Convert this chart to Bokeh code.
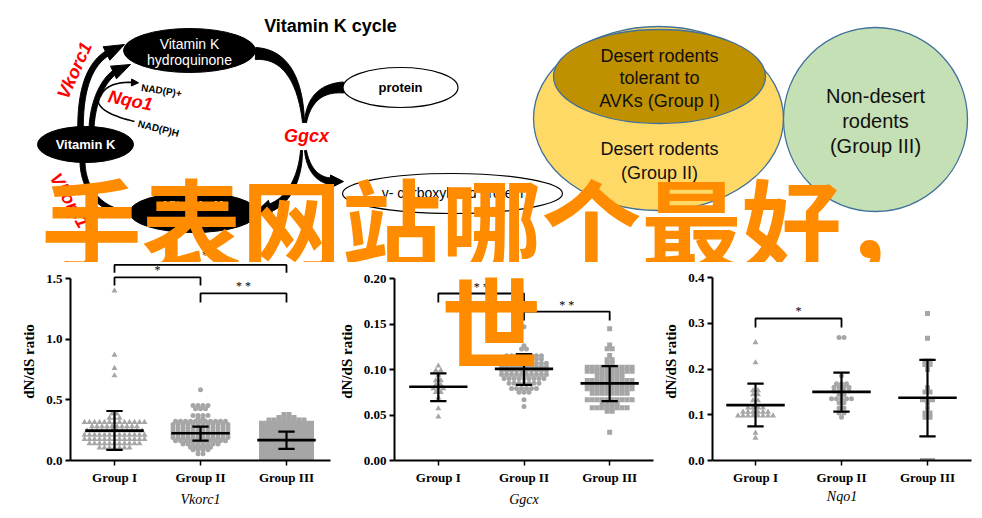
import numpy as np
from bokeh.plotting import figure
from bokeh.models import Range1d, FixedTicker, PrintfTickFormatter
from bokeh.layouts import column, row
from bokeh.embed import file_html
from bokeh.resources import INLINE
from bokeh.core.properties import value

# ---------------- chart data ----------------
group_labels = ["Group I", "Group II", "Group III"]
gene_titles = ["Vkorc1", "Ggcx", "Nqo1"]
y_title = "dN/dS ratio"
overlay_line1 = "手表网站哪个最好，"
overlay_line2 = "世"

# dot rows: value of the row and number of dots in that row
vk_g1_vals = [1.40, 0.87, 0.76, 0.70, 0.385, 0.35, 0.315, 0.28, 0.245, 0.21, 0.175, 0.14, 0.105]
vk_g1_cnt = [1, 1, 1, 1, 2, 3, 13, 10, 12, 13, 13, 11, 7]
vk_g2_vals = [0.583, 0.453, 0.426, 0.371, 0.349, 0.324, 0.297, 0.27, 0.243, 0.216, 0.189, 0.162, 0.135, 0.11, 0.088, 0.055]
vk_g2_cnt = [1, 4, 3, 4, 2, 11, 12, 12, 12, 12, 12, 11, 8, 5, 4, 2]
vk_g3_vals = [0.379, 0.355, 0.333, 0.307, 0.28, 0.253, 0.226, 0.199, 0.172, 0.145, 0.118, 0.091, 0.064, 0.037, 0.012]
vk_g3_cnt = [2, 4, 8, 11, 11, 11, 11, 11, 11, 11, 11, 11, 11, 11, 11]
vk_mean = [0.246, 0.225, 0.168]
vk_lo = [0.088, 0.164, 0.096]
vk_hi = [0.408, 0.279, 0.238]

gg_g1_vals = [0.104, 0.099, 0.094, 0.088, 0.083, 0.079, 0.075, 0.069, 0.057, 0.048]
gg_g1_cnt = [1, 2, 1, 2, 2, 3, 2, 1, 1, 1]
gg_g2_vals = [0.147, 0.126, 0.1225, 0.115, 0.1115, 0.107, 0.103, 0.099, 0.0945, 0.090, 0.085, 0.079, 0.075, 0.0667, 0.0593]
gg_g2_cnt = [1, 1, 2, 8, 8, 10, 10, 10, 10, 9, 7, 6, 3, 1, 1]
gg_g3_vals = [0.1447, 0.127, 0.1227, 0.1154, 0.1106, 0.107, 0.1026, 0.0982, 0.0934, 0.0879, 0.0835, 0.0788, 0.074, 0.0667, 0.0623, 0.0579, 0.0542, 0.0311]
gg_g3_cnt = [1, 1, 2, 1, 2, 2, 10, 10, 6, 10, 10, 10, 8, 10, 4, 8, 2, 1]
gg_mean = [0.081, 0.1007, 0.0847]
gg_lo = [0.0653, 0.083, 0.0653]
gg_hi = [0.0957, 0.117, 0.1037]

nq_g1_vals = [0.258, 0.214, 0.153, 0.144, 0.131, 0.122, 0.115, 0.106, 0.098, 0.060, 0.049]
nq_g1_cnt = [1, 1, 2, 2, 2, 1, 4, 6, 8, 1, 1]
nq_g2_vals = [0.269, 0.185, 0.168, 0.160, 0.152, 0.144, 0.135, 0.126, 0.115, 0.104, 0.0945]
nq_g2_cnt = [2, 1, 3, 4, 4, 2, 5, 2, 2, 2, 1]
nq_g3_vals = [0.3215, 0.2674, 0.2176, 0.210, 0.199, 0.159, 0.150, 0.133, 0.126, 0.115, 0.104, 0.0945, 0.0]
nq_g3_cnt = [1, 1, 2, 2, 1, 1, 2, 3, 1, 1, 2, 2, 3]
nq_mean = [0.121, 0.150, 0.137]
nq_lo = [0.0747, 0.107, 0.0527]
nq_hi = [0.168, 0.192, 0.2198]

# significance brackets: (from group, to group, bar level, drop level, stars)
vk_brackets = [(1, 3, 1.612, 1.548, ""), (1, 2, 1.509, 1.443, "*"), (2, 3, 1.377, 1.303, "* *")]
vk_top_stars = "* *"
gg_brackets = [(1, 2, 0.1835, 0.1736, "* *"), (2, 3, 0.1637, 0.1538, "* *")]
nq_brackets = [(1, 2, 0.3104, 0.2907, "*")]

# ---------------- styling / page geometry ----------------
DOT = "#a6a6a6"
ORANGE = "#ff8c00"
SERIF = "Liberation Serif"
SANS = "Liberation Sans"
CJK = "Noto Sans CJK SC"
BIG = "75pt"         # = 100px
SPLIT = 262          # page y where the diagrams stop and the dot plots begin
AXIS0 = 460          # page y of the x axes
BOTTOM = 510


def swarm(vals, counts, center, px_y, px_x=86.0, dx=5.0, tol=2.5):
    v = np.sort(np.repeat(np.asarray(vals, float), counts))[::-1]
    xs, ys = [], []
    i = 0
    while i < len(v):
        j = i
        while j + 1 < len(v) and (v[i] - v[j + 1]) * px_y < tol:
            j += 1
        n = j - i + 1
        offs = (np.arange(n) - (n - 1) / 2.0) * dx / px_x
        xs.extend([float(a) for a in center + offs])
        ys.extend([float(a) for a in v[i:j + 1]])
        i = j + 1
    return xs, ys


def cubic(p0, p1, p2, p3, n=40):
    t = np.linspace(0, 1, n)[:, None]
    P = [np.array(p, float) for p in (p0, p1, p2, p3)]
    return (1 - t) ** 3 * P[0] + 3 * (1 - t) ** 2 * t * P[1] + 3 * (1 - t) * t ** 2 * P[2] + t ** 3 * P[3]


def band(ctrl, w0, w1):
    pts = cubic(*ctrl)
    d = np.gradient(pts, axis=0)
    d /= np.linalg.norm(d, axis=1)[:, None]
    nrm = np.stack([-d[:, 1], d[:, 0]], 1)
    w = np.linspace(w0, w1, len(pts))[:, None] / 2.0
    poly = np.vstack([pts + nrm * w, (pts - nrm * w)[::-1]])
    return [float(a) for a in poly[:, 0]], [float(a) for a in poly[:, 1]]


def head(tip, base, width):
    tip = np.array(tip, float)
    base = np.array(base, float)
    u = tip - base
    u /= np.linalg.norm(u)
    nv = np.array([-u[1], u[0]])
    a = base + nv * width / 2
    b = base - nv * width / 2
    return [float(tip[0]), float(a[0]), float(b[0])], [float(tip[1]), float(a[1]), float(b[1])]


def big(p, x, y, txt):
    p.text(x=[x], y=[y], text=[txt], text_font=value(CJK), text_font_style="bold",
           text_font_size=BIG, text_color=ORANGE, text_align="center", text_baseline="middle")


# ---------------- top: diagrams ----------------
top = figure(width=982, height=SPLIT, x_range=Range1d(0, 982), y_range=Range1d(SPLIT, 0),
             x_axis_type=None, y_axis_type=None, output_backend="svg",
             toolbar_location=None, min_border=0, outline_line_color=None)

# Venn diagram
top.ellipse(x=[658], y=[118], width=[250], height=[184], fill_color="#ffd966", line_color="#41719c", line_width=1.3)
top.ellipse(x=[659], y=[76], width=[212], height=[94], fill_color="#bf9000", line_color="#41719c", line_width=1.3)
top.ellipse(x=[875], y=[119], width=[184], height=[184], fill_color="#c5e0b4", line_color="#41719c", line_width=1.3)
top.text(x=[659, 659, 659, 659, 659], y=[55, 77, 100, 148, 172],
         text=["Desert rodents", "tolerant to", "AVKs (Group I)", "Desert rodents", "(Group II)"],
         text_font=value(SANS), text_font_size="18px", text_align="center", text_baseline="middle", text_color="#111111")
top.text(x=[875, 875, 875], y=[95, 120, 145], text=["Non-desert", "rodents", "(Group III)"],
         text_font=value(SANS), text_font_size="20px", text_align="center", text_baseline="middle", text_color="#111111")

# cycle arrows
bands = [
    ([(80, 128), (80, 95), (86, 65), (108, 52)], 5.5, 5.5),
    ([(91, 128), (92, 105), (100, 82), (115, 71)], 5.0, 5.0),
    ([(255, 53), (285, 53), (300, 80), (303, 122)], 12, 2),
    ([(343, 87), (320, 87), (308, 100), (305, 122)], 11, 2),
    ([(301, 150), (300, 175), (290, 200), (268, 208)], 2, 8),
    ([(305, 150), (308, 170), (318, 180), (332, 181)], 2, 7),
    ([(82, 162), (83, 190), (100, 210), (128, 213)], 5, 5),
]
for ctrl, w0, w1 in bands:
    bx, by = band(ctrl, w0, w1)
    top.patch(bx, by, color="black")
for tip, base, w in [((124, 44), (106, 53), 15), ((130, 64), (113, 72), 14),
                     ((256, 211), (270, 207), 15), ((343, 181), (330, 181), 13),
                     ((138, 82.3), (131, 82), 7)]:
    hx, hy = head(tip, base, w)
    top.patch(hx, hy, color="black")
for c in [cubic((100, 96), (104, 86), (115, 81), (133, 82)), cubic((98, 96), (95, 108), (110, 115), (134, 121))]:
    top.line([float(a) for a in c[:, 0]], [float(a) for a in c[:, 1]], line_width=1.6, color="black")

# cycle ellipses and labels
top.ellipse(x=[189, 85, 193], y=[50, 144, 212], width=[132, 96, 128], height=[44, 36, 40], color="black")
top.ellipse(x=[400, 452], y=[87, 193], width=[115, 220], height=[40, 40],
            fill_color="white", line_color="black", line_width=1.2)
top.text(x=[189, 189], y=[43, 59], text=["Vitamin K", "hydroquinone"], text_font=value(SANS),
         text_font_size="14px", text_align="center", text_baseline="middle", text_color="white")
top.text(x=[85, 193, 193], y=[144, 205, 221], text=["Vitamin K", "Vitamin K", "epoxide"], text_font=value(SANS),
         text_font_size="13px", text_font_style="bold", text_align="center", text_baseline="middle", text_color="white")
top.text(x=[400], y=[87], text=["protein"], text_font=value(SANS), text_font_size="13px",
         text_font_style="bold", text_align="center", text_baseline="middle", text_color="black")
top.text(x=[452], y=[192], text=["γ- carboxylated protein"], text_font=value(SANS), text_font_size="14px",
         text_align="center", text_baseline="middle", text_color="black")
top.text(x=[330], y=[25], text=["Vitamin K cycle"], text_font=value(SANS), text_font_size="18px",
         text_font_style="bold", text_align="center", text_baseline="middle", text_color="black")
top.text(x=[161, 158], y=[90, 128], text=["NAD(P)+", "NAD(P)H"], angle=[-0.15, -0.25], text_font=value(SANS),
         text_font_size="10px", text_font_style="bold", text_align="center", text_baseline="middle", text_color="black")
top.text(x=[130, 74, 69, 306], y=[100, 70, 200, 135], text=["Nqo1", "Vkorc1", "Vkorc1", "Ggcx"],
         angle=[-0.2, 1.15, -1.05, 0.0], text_font=value(SANS), text_font_size="18px",
         text_font_style="bold italic", text_align="center", text_baseline="middle", text_color="#ff0000")
# stars of the widest Vkorc1 bracket sit just above the dot plot
top.text(x=[200], y=[254], text=[vk_top_stars], text_font=value(SERIF), text_font_size="12px",
         text_align="center", text_baseline="middle", text_color="black")
big(top, 491, 220, overlay_line1)


# ---------------- dot plots ----------------
def panel(width, bl, br, x0, ytop, yticks, fmt, rows, means, los, his, brackets, title,
          title_standoff, px_y):
    fw = width - bl - br
    yend = (AXIS0 - SPLIT) / px_y
    p = figure(width=width, height=BOTTOM - SPLIT, x_range=Range1d(x0, x0 + fw / 86.0),
               y_range=Range1d(0, yend), output_backend="svg", toolbar_location=None,
               min_border_left=bl, min_border_right=br, min_border_top=0, min_border_bottom=BOTTOM - AXIS0,
               outline_line_color=None)
    p.grid.visible = False
    markers = ["triangle", "circle", "square"]
    sizes = [6, 5, 5]
    for k, (vals, cnt) in enumerate(rows):
        xs, ys = swarm(vals, cnt, k + 1, px_y)
        p.scatter(xs, ys, marker=markers[k], size=sizes[k], color=DOT, line_width=0)
    pos = [1.0, 2.0, 3.0]
    p.segment([a - 0.34 for a in pos], means, [a + 0.34 for a in pos], means, line_width=2.6, color="black")
    p.segment(pos, los, pos, his, line_width=2.2, color="black")
    p.segment([a - 0.095 for a in pos], los, [a + 0.095 for a in pos], los, line_width=2.2, color="black")
    p.segment([a - 0.095 for a in pos], his, [a + 0.095 for a in pos], his, line_width=2.2, color="black")
    for a, b, ybar, ydrop, lab in brackets:
        p.line([a, a, b, b], [ydrop, ybar, ybar, ydrop], line_width=1.8, color="black")
        if lab:
            p.text(x=[(a + b) / 2.0], y=[ybar], text=[lab], text_font=value(SERIF), text_font_size="12px",
                   text_align="center", text_baseline="bottom", text_color="black")
    p.yaxis.bounds = (0, ytop)
    p.yaxis.ticker = FixedTicker(ticks=yticks)
    p.yaxis.formatter = PrintfTickFormatter(format=fmt)
    p.xaxis.ticker = FixedTicker(ticks=[1, 2, 3])
    p.xaxis.major_label_overrides = {1: group_labels[0], 2: group_labels[1], 3: group_labels[2]}
    for ax in p.axis:
        ax.axis_line_width = 2
        ax.axis_line_color = "black"
        ax.major_tick_line_width = 2
        ax.major_tick_line_color = "black"
        ax.major_tick_out = 5
        ax.major_tick_in = 0
        ax.minor_tick_line_color = None
        ax.major_label_text_font = SERIF
        ax.major_label_text_font_style = "bold"
        ax.major_label_text_font_size = "13px"
        ax.major_label_text_color = "black"
        ax.axis_label_text_color = "black"
        ax.axis_label_text_font = SERIF
    p.yaxis.major_label_standoff = 3
    p.xaxis.major_label_standoff = 4
    p.xaxis.major_tick_line_width = 1.5
    p.yaxis.axis_label = y_title
    p.yaxis.axis_label_text_font_style = "bold"
    p.yaxis.axis_label_text_font_size = "15px"
    p.yaxis.axis_label_standoff = 6
    p.xaxis.axis_label = title
    p.xaxis.axis_label_text_font_style = "italic"
    p.xaxis.axis_label_text_font_size = "14px"
    p.xaxis.axis_label_standoff = title_standoff
    return p


p1 = panel(335, 70, 5, 1 - 44 / 86.0, 1.5, [0, 0.5, 1.0, 1.5], "%.1f",
           [(vk_g1_vals, vk_g1_cnt), (vk_g2_vals, vk_g2_cnt), (vk_g3_vals, vk_g3_cnt)],
           vk_mean, vk_lo, vk_hi, vk_brackets, gene_titles[0], 4, 121.3)
p2 = panel(325, 58, 7, 1 - 44 / 86.0, 0.20, [0, 0.05, 0.10, 0.15, 0.20], "%.2f",
           [(gg_g1_vals, gg_g1_cnt), (gg_g2_vals, gg_g2_cnt), (gg_g3_vals, gg_g3_cnt)],
           gg_mean, gg_lo, gg_hi, gg_brackets, gene_titles[1], 4, 910.0)
p3 = panel(322, 52, 11, 0.5, 0.4, [0, 0.1, 0.2, 0.3, 0.4], "%.1f",
           [(nq_g1_vals, nq_g1_cnt), (nq_g2_vals, nq_g2_cnt), (nq_g3_vals, nq_g3_cnt)],
           nq_mean, nq_lo, nq_hi, nq_brackets, gene_titles[2], 1, 457.5)

# second overlay line sits over the Ggcx plot (page position 490, 318)
big(p2, p2.x_range.start + (490 - 393) / 86.0, (AXIS0 - 318) / 910.0, overlay_line2)

layout = column(top, row(p1, p2, p3))
open("out.html", "w").write(file_html(layout, INLINE))
